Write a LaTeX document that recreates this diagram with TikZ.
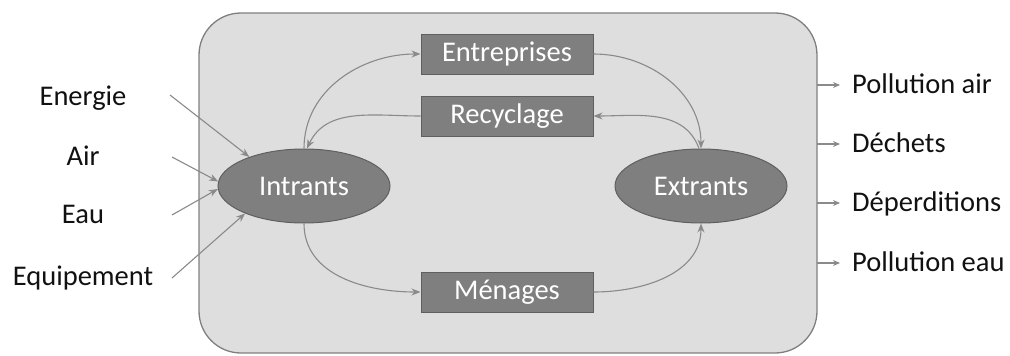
\documentclass[tikz,border=0pt]{standalone}
\usepackage{fontspec}
\setmainfont{Carlito}
\usetikzlibrary{shapes.geometric,arrows.meta}
\definecolor{panel}{HTML}{DEDEDE}
\definecolor{panelline}{HTML}{7F7F7F}
\definecolor{boxfill}{HTML}{7F7F7F}
\definecolor{boxline}{HTML}{5F5F5F}
\definecolor{arr}{HTML}{8A8A8A}
\definecolor{txt}{HTML}{111111}
\begin{document}
\begin{tikzpicture}[x=1pt,y=-1pt,
  every node/.style={font=\fontsize{28.5}{34}\selectfont},
  stagebox/.style={draw=boxline,fill=boxfill,line width=1pt,minimum width=172pt,minimum height=40pt,inner sep=0pt,text=white},
  stageell/.style={ellipse,draw=boxline,fill=boxfill,line width=1pt,minimum width=172pt,minimum height=74pt,inner sep=0pt,text=white},
  lbl/.style={inner sep=0pt,text=txt},
  flow/.style={draw=arr,line width=1.1pt,-{Stealth[length=9pt,width=7pt]}},
  outflow/.style={draw=arr,line width=1.1pt,-{Stealth[length=7pt,width=6pt]}}]
\useasboundingbox (0,0) rectangle (1010,356);
\draw[fill=panel,draw=panelline,line width=1.3pt,rounded corners=42pt] (199,13) rectangle (817,353);
% stages
\node[stagebox] (ent) at (507,54) {Entreprises};
\node[stagebox] (rec) at (507,116) {Recyclage};
\node[stagebox] (men) at (507,292) {Ménages};
\node[stageell] (int) at (304,186) {Intrants};
\node[stageell] (ext) at (701,186) {Extrants};
% inner flows
\draw[flow] (int.north) to[out=90,in=180] (ent.west);
\draw[flow] (rec.west) to[out=180,in=65] ([xshift=3pt]int.north);
\draw[flow] (ent.east) to[out=0,in=90] (ext.north);
\draw[flow] ([xshift=-2pt]ext.north) to[out=110,in=0] (rec.east);
\draw[flow] (int.south) to[out=-90,in=180] (men.west);
\draw[flow] (men.east) to[out=0,in=-90] (ext.south);
% inputs
\node[lbl,anchor=base] (energie) at (83,105) {Energie};
\node[lbl,anchor=base] (air) at (83,165) {Air};
\node[lbl,anchor=base] (eau) at (83,223) {Eau};
\node[lbl,anchor=base] (equip) at (83,285) {Equipement};
\coordinate (senergie) at (170,95);
\coordinate (sair) at (172,157);
\coordinate (seau) at (172,215);
\coordinate (sequip) at (172,278);
\draw[flow] (senergie) -- (int.152);
\draw[flow] (sair) -- (int.177);
\draw[flow] (seau) -- (int.182);
\draw[flow] (sequip) -- (int.205);
% outputs
\coordinate (o1) at (817,85);
\coordinate (o2) at (817,144);
\coordinate (o3) at (817,203);
\coordinate (o4) at (817,263);
\node[lbl,anchor=base west] (pair) at (852,93) {Pollution air};
\node[lbl,anchor=base west] (dech) at (852,152) {Déchets};
\node[lbl,anchor=base west] (deper) at (852,211) {Déperditions};
\node[lbl,anchor=base west] (peau) at (852,271) {Pollution eau};
\draw[outflow] (o1) -- ++(23,0);
\draw[outflow] (o2) -- ++(23,0);
\draw[outflow] (o3) -- ++(23,0);
\draw[outflow] (o4) -- ++(23,0);
\end{tikzpicture}
\end{document}
